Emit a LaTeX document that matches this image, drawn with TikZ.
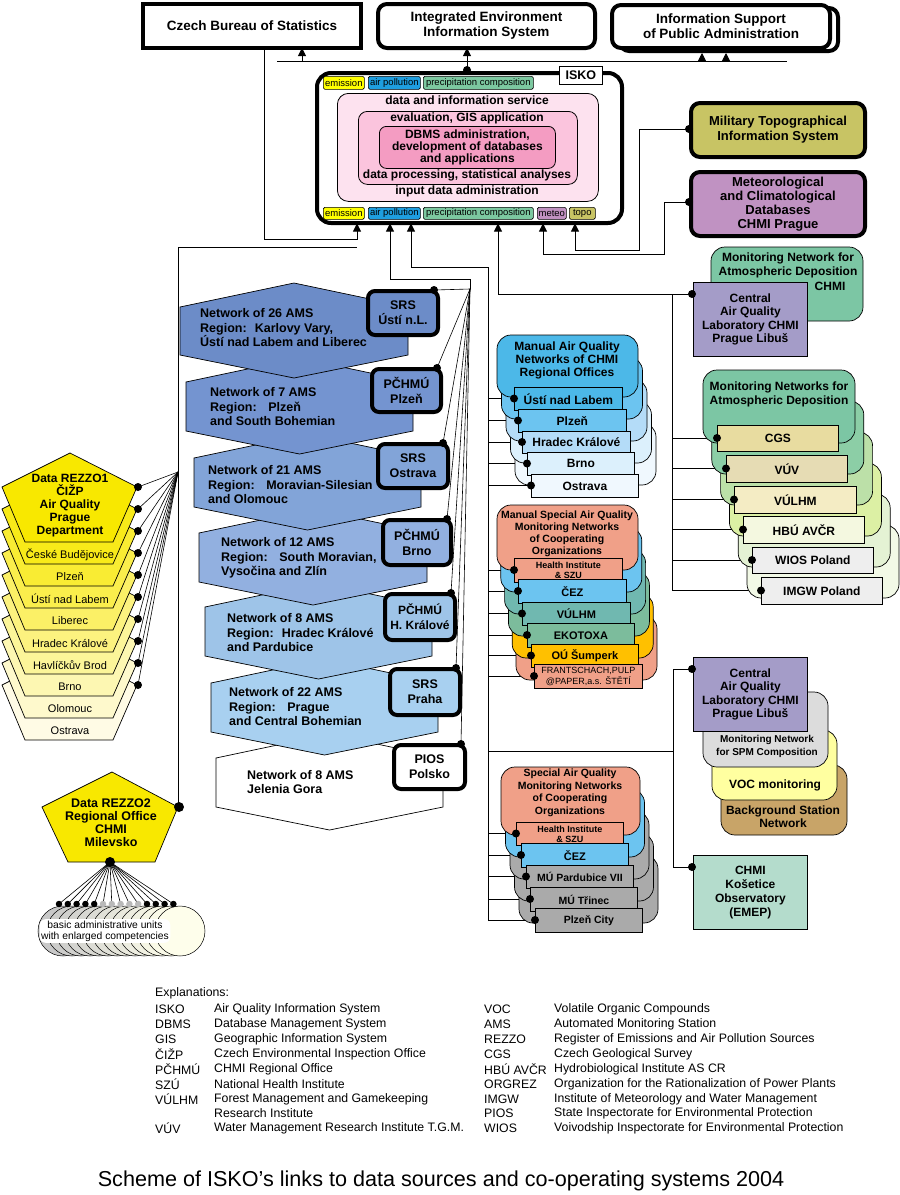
\documentclass[tikz,border=0pt]{standalone}
\usepackage{fontspec}
\setmainfont{Liberation Sans}
\usetikzlibrary{arrows.meta}
\definecolor{hexA}{HTML}{6C8CC8}
\definecolor{hexB}{HTML}{7494D0}
\definecolor{hexC}{HTML}{82A4D8}
\definecolor{hexD}{HTML}{92B0E0}
\definecolor{hexE}{HTML}{9EC4E8}
\definecolor{hexF}{HTML}{A8D0F0}
\definecolor{tagY}{HTML}{FFFF00}
\definecolor{tagB}{HTML}{1E9EE0}
\definecolor{tagG}{HTML}{7CC8A0}
\definecolor{tagM}{HTML}{C090C0}
\definecolor{tagT}{HTML}{C8C464}
\definecolor{pkA}{HTML}{FDE2EF}
\definecolor{pkB}{HTML}{FBC4DD}
\definecolor{pkC}{HTML}{F49CC2}
\definecolor{milC}{HTML}{C8C464}
\definecolor{metC}{HTML}{C092C2}
\definecolor{grnA}{HTML}{7CC6A4}
\definecolor{labC}{HTML}{A49CC8}
\definecolor{blA}{HTML}{4CB8E8}
\definecolor{blB}{HTML}{6CC4F0}
\definecolor{blC}{HTML}{B4DCF8}
\definecolor{blD}{HTML}{DCF0FC}
\definecolor{blE}{HTML}{F0F8FE}
\definecolor{salC}{HTML}{F0A088}
\definecolor{tealC}{HTML}{70B8B0}
\definecolor{ekoC}{HTML}{7CBC9C}
\definecolor{orC}{HTML}{FFC000}
\definecolor{gryC}{HTML}{AAAAAA}
\definecolor{spmC}{HTML}{DCDCDC}
\definecolor{vocC}{HTML}{FFFFA0}
\definecolor{bgsC}{HTML}{C8A468}
\definecolor{kosC}{HTML}{B4DCCC}
\definecolor{dA}{HTML}{7CC6A4}
\definecolor{dB}{HTML}{8CCEA6}
\definecolor{dC}{HTML}{BCE0A8}
\definecolor{dD}{HTML}{DCF0A4}
\definecolor{dE}{HTML}{E4F2D4}
\definecolor{dF}{HTML}{F2F9E6}
\definecolor{cgsC}{HTML}{E8DCA0}
\definecolor{vuvC}{HTML}{E6DCB4}
\definecolor{vulC}{HTML}{F4ECC4}
\definecolor{hbuC}{HTML}{F4F8E0}
\definecolor{wioC}{HTML}{EEEEEE}
\definecolor{ryA}{HTML}{F8E800}
\newcommand\fsz[2]{\fontsize{#1}{#2}\selectfont}
\newcommand\bx[7]{\pgfmathsetmacro\bxw{#4-#2}\pgfmathsetmacro\bxh{#5-#3}%
  \node[#6,anchor=north west,minimum width=\bxw pt,minimum height=\bxh pt] (#1) at (#2,#3) {#7};}
\newcommand\hexa[5]{\filldraw[fill=#5,line width=0.7pt] (#1,#3) -- ({(#1+#2)/2},{#3-24}) -- (#2,#3) -- (#2,#4) -- ({(#1+#2)/2},{#4+23}) -- (#1,#4) -- cycle;}
\tikzset{
  base/.style={inner sep=0pt, align=center, font=\bfseries\fsz{12}{13.5}},
  tbox/.style={base, draw, line width=4pt},
  rbox/.style={tbox, rounded corners=9pt},
  regbox/.style={tbox, rounded corners=7pt, font=\bfseries\fsz{12.5}{15}},
  sbox/.style={base, draw, line width=0.8pt},
  conn/.style={line width=0.9pt},
  fan/.style={line width=0.6pt},
  arr/.style={conn, -{Triangle[width=8pt,length=8pt]}},
  dotst/.style={circle, fill=black, inner sep=0pt, minimum size=8pt},
  tag/.style={draw, line width=0.6pt, rounded corners=1.5pt, inner sep=0pt, font=\fsz{9.5}{10}},
  lay/.style={draw, line width=0.7pt, rounded corners=14pt},
  txt/.style={inner sep=0pt, align=center, font=\bfseries\fsz{12}{13.5}},
  hext/.style={inner sep=0pt, anchor=west, align=left, font=\bfseries\fsz{12.5}{14.5}},
  expl/.style={inner sep=0pt, anchor=west, font=\fsz{12.3}{15}},
}
\begin{document}
\begin{tikzpicture}[x=1pt,y=-1pt]
\useasboundingbox (0,0) rectangle (900,1195);
\fill[white] (0,0) rectangle (900,1195);

% ---------------- connectors ----------------
\coordinate (busL) at (277,61.5);
\coordinate (busR) at (787,61.5);
\draw[conn] (busL) -- (busR);
\draw[arr] (302,61.5) -- (302,48);
\draw[arr] (467,61.5) -- (467,48);
\draw[arr] (702,61.5) -- (702,53);
\draw[arr] (726,61.5) -- (726,53);
\draw[conn] (467,70) -- (467,61.5);

\draw[arr] (264,46) -- (264,239) -- (357,239) -- (357,223.5);
\draw[conn] (178,808) -- (178,247) -- (357,247);
\draw[arr] (470,289) -- (470,279) -- (390,279) -- (390,223.5);
\draw[arr] (488,921) -- (488,267) -- (411,267) -- (411,223.5);
\draw[arr] (692,294) -- (498,294) -- (498,223.5);
\draw[conn] (672,294) -- (672,590.5);
\draw[arr] (689,202) -- (664,202) -- (664,254) -- (543,254) -- (543,223.5);
\draw[arr] (689,129) -- (639,129) -- (639,250) -- (575,250) -- (575,223.5);
\draw[conn] (488,751) -- (673,751);
\draw[conn] (692,669) -- (673,669) -- (673,867) -- (692,867);

% branches to deposition items
\foreach \y/\x in {438/717,468.5/726,499.5/734,529.5/743,560/752,590.5/761}
  \draw[conn] (672,\y) -- (\x,\y);
% branches to manual networks
\foreach \y/\x in {398.5/514,420.5/518,442/522,463.5/527,485.5/531,
                   570/514,591/518,613.5/522,635/527,655.5/531,676/534,
                   833.5/516,855/521,876.5/526,899/530,920/535}
  \draw[conn] (488,\y) -- (\x,\y);

% ---------------- top boxes ----------------
\bx{cbs}{141}{2}{359}{46}{tbox, fill=white, font=\bfseries\fsz{13.5}{15}}{Czech Bureau of Statistics}
\bx{ieis}{376}{2}{593}{46}{rbox, fill=white, font=\bfseries\fsz{13.5}{15}}{Integrated Environment\\Information System}
\draw[line width=4pt, rounded corners=9pt, fill=white] (620,8) rectangle (838,51);
\bx{ispa}{610}{3}{828}{46}{rbox, fill=white, font=\bfseries\fsz{13.5}{15}}{Information Support\\of Public Administration}

% ---------------- ISKO ----------------
\bx{isko}{315}{71}{620}{221}{rbox, rounded corners=14pt, fill=white}{}
\bx{iskol}{559}{66}{602}{84}{sbox, fill=white, font=\bfseries\fsz{12.5}{14}}{ISKO}
\bx{te1}{323}{76}{364}{89}{tag,fill=tagY}{emission}
\bx{ta1}{368}{76}{420}{89}{tag,fill=tagB}{air pollution}
\bx{tp1}{423}{76}{533}{89}{tag,fill=tagG}{precipitation composition}
\bx{te2}{323}{207}{364}{219}{tag,fill=tagY}{emission}
\bx{ta2}{368}{207}{420}{219}{tag,fill=tagB}{air pollution}
\bx{tp2}{423}{207}{533}{219}{tag,fill=tagG}{precipitation composition}
\bx{tm2}{537}{207}{566}{219}{tag,fill=tagM}{meteo}
\bx{tt2}{569}{207}{595}{219}{tag,fill=tagT}{topo}
\bx{dis}{337}{93}{598}{201}{sbox, fill=pkA, rounded corners=11pt}{}
\bx{evl}{358}{111}{577}{184}{sbox, fill=pkB, rounded corners=9pt}{}
\bx{dbms}{379}{126}{555}{168}{sbox, fill=pkC, rounded corners=7pt, font=\bfseries\fsz{12}{12}}{DBMS administration,\\development of databases\\and applications}
\node[txt] (tx1) at (467,100.5) {data and information service};
\node[txt] (tx2) at (467,118) {evaluation, GIS application};
\node[txt] (tx3) at (467,175.5) {data processing, statistical analyses};
\node[txt] (tx4) at (467,191.5) {input data administration};
\node[dotst] (iskotop) at (467,70) {};

% ---------------- military / meteo ----------------
\bx{mil}{689}{101}{863}{155}{rbox, fill=milC, font=\bfseries\fsz{13}{15}}{Military Topographical\\Information System}
\bx{met}{689}{170}{863}{234}{rbox, fill=metC, font=\bfseries\fsz{13}{13.8}}{Meteorological\\and Climatological\\Databases\\CHMI Prague}
\node[dotst] (dmil) at (689,129) {};
\node[dotst] (dmet) at (689,202) {};

% ---------------- deposition ----------------
\filldraw[lay, fill=grnA] (711,247) rectangle (863,321);
\node[txt] (mnc) at (788,265.5) {Monitoring Network for\\Atmospheric Deposition};
\node[txt] (mnc2) at (830,286) {CHMI};
\bx{cal1}{693}{282}{807}{356}{sbox, fill=labC}{Central\\Air Quality\\Laboratory CHMI\\Prague Libuš}
\node[dotst] (dcal1) at (692,294) {};

\foreach \i/\c in {5/dF,4/dE,3/dD,2/dC,1/dB,0/dA}
  \filldraw[lay, fill=\c] ({703+8.8*\i},{370+31*\i}) rectangle ({855+8.8*\i},{443+31*\i});
\node[txt] (mnad) at (779,394.5) {Monitoring Networks for\\Atmospheric Deposition};
\bx{cgs}{717}{425}{838}{451}{sbox, fill=cgsC}{CGS}
\bx{vuv}{726}{455}{847}{482}{sbox, fill=vuvC}{VÚV}
\bx{vul}{734}{486}{856}{513}{sbox, fill=vulC}{VÚLHM}
\bx{hbu}{743}{516}{864}{543}{sbox, fill=hbuC}{HBÚ AVČR}
\bx{wio}{752}{547}{873}{573}{sbox, fill=wioC}{WIOS Poland}
\bx{img}{761}{577}{882}{604}{sbox, fill=wioC}{IMGW Poland}
\foreach \n/\y/\x in {1/438/717,2/468.5/726,3/499.5/734,4/529.5/743,5/560/752,6/590.5/761}
  \node[dotst] (dd\n) at (\x,\y) {};

% ---------------- manual AQ networks ----------------
\foreach \i/\c in {4/blE,3/blD,2/blC,1/blB,0/blA}
  \filldraw[lay, fill=\c] ({497+4.5*\i},{335+22*\i}) rectangle ({638+4.5*\i},{397+22*\i});
\node[txt, font=\bfseries\fsz{12}{13}] (manT) at (567,360) {Manual Air Quality\\Networks of CHMI\\Regional Offices};
\bx{mu}{514}{387}{622}{410}{sbox, fill=blA}{Ústí nad Labem}
\bx{mp}{518}{409}{626}{432}{sbox, fill=blB}{Plzeň}
\bx{mh}{522}{431}{630}{453}{sbox, fill=blC}{Hradec Králové}
\bx{mb}{527}{452}{634}{475}{sbox, fill=blD}{Brno}
\bx{mo}{531}{474}{638}{497}{sbox, fill=blE}{Ostrava}
\foreach \n/\y/\x in {1/398.5/514,2/420.5/518,3/442/522,4/463.5/527,5/485.5/531}
  \node[dotst] (dm\n) at (\x,\y) {};

% ---------------- manual special ----------------
\foreach \i/\c in {5/salC,4/orC,3/ekoC,2/tealC,1/blB,0/salC}
  \filldraw[lay, fill=\c] ({497+3.8*\i},{505+22*\i}) rectangle ({638+3.8*\i},{570+22*\i});
\node[txt, font=\bfseries\fsz{10.5}{12}] (msT) at (567,533.5) {Manual Special Air Quality\\Monitoring Networks\\of Cooperating\\Organizations};
\bx{ms1}{514}{558}{622}{582}{sbox, fill=salC, font=\bfseries\fsz{9}{10}}{Health Institute\\\& SZU}
\bx{ms2}{518}{579}{626}{603}{sbox, fill=blB, font=\bfseries\fsz{11}{12}}{ČEZ}
\bx{ms3}{522}{602}{630}{625}{sbox, fill=tealC, font=\bfseries\fsz{11}{12}}{VÚLHM}
\bx{ms4}{527}{623}{634}{647}{sbox, fill=ekoC, font=\bfseries\fsz{11}{12}}{EKOTOXA}
\bx{ms5}{531}{644}{638}{667}{sbox, fill=orC, font=\bfseries\fsz{11}{12}}{OÚ Šumperk}
\bx{ms6}{534}{664}{642}{688}{sbox, fill=salC, font=\fsz{9}{10.5}}{FRANTSCHACH,PULP\\@PAPER,a.s. ŠTĚTÍ}
\foreach \n/\y/\x in {1/570/514,2/591/518,3/613.5/522,4/635/527,5/655.5/531,6/676/534}
  \node[dotst] (dms\n) at (\x,\y) {};

% ---------------- special (bottom) ----------------
\foreach \i/\c in {4/gryC,3/gryC,2/gryC,1/blB,0/salC}
  \filldraw[lay, fill=\c] ({501+4.5*\i},{767+22*\i}) rectangle ({640+4.5*\i},{835+22*\i});
\node[txt, font=\bfseries\fsz{10.5}{12.5}] (spT) at (570,793) {Special Air Quality\\Monitoring Networks\\of Cooperating\\Organizations};
\bx{sp1}{516}{822}{623}{845}{sbox, fill=salC, font=\bfseries\fsz{9}{10}}{Health Institute\\\& SZU}
\bx{sp2}{521}{843}{628}{867}{sbox, fill=blB, font=\bfseries\fsz{11}{12}}{ČEZ}
\bx{sp3}{526}{865}{633}{888}{sbox, fill=gryC, font=\bfseries\fsz{10.5}{12}}{MÚ Pardubice VII}
\bx{sp4}{530}{887}{637}{911}{sbox, fill=gryC, font=\bfseries\fsz{10.5}{12}}{MÚ Třinec}
\bx{sp5}{535}{908}{642}{932}{sbox, fill=gryC, font=\bfseries\fsz{10.5}{12}}{Plzeň City}
\foreach \n/\y/\x in {1/833.5/516,2/855/521,3/876.5/526,4/899/530,5/920/535}
  \node[dotst] (dsp\n) at (\x,\y) {};

% ---------------- central lab 2 group ----------------
\filldraw[lay, fill=bgsC] (721,765) rectangle (847,835);
\filldraw[lay, fill=vocC] (712,730) rectangle (837,800);
\filldraw[lay, fill=spmC] (703,692) rectangle (828,767);
\node[txt, font=\bfseries\fsz{10}{13}] (spm) at (767,746.5) {Monitoring Network\\for SPM Composition};
\node[txt] (voc) at (775,785) {VOC monitoring};
\node[txt] (bgs) at (783,816.5) {Background Station\\Network};
\bx{cal2}{693}{657}{807}{731}{sbox, fill=labC}{Central\\Air Quality\\Laboratory CHMI\\Prague Libuš}
\bx{kos}{693}{855}{807}{929}{sbox, fill=kosC, font=\bfseries\fsz{12}{14}}{CHMI\\Košetice\\Observatory\\(EMEP)}
\node[dotst] (dcal2) at (692,669) {};
\node[dotst] (dkos) at (692,867) {};

% ---------------- hexagons ----------------
\hexa{216}{443}{758}{807}{white}
\hexa{211}{438}{683}{732}{hexF}
\hexa{205}{432}{607}{656}{hexE}
\hexa{199}{427}{533}{582}{hexD}
\hexa{194}{421}{458}{507}{hexC}
\hexa{186}{413}{382}{431}{hexB}
\hexa{180}{408}{307}{355}{hexA}
\node[hext] (h1) at (200,328) {Network of 26 AMS\\Region:~ Karlovy Vary,\\Ústí nad Labem and Liberec};
\node[hext] (h2) at (210,407) {Network of 7 AMS\\Region:~~ Plzeň\\and South Bohemian};
\node[hext] (h3) at (208,485) {Network of 21 AMS\\Region:~~ Moravian-Silesian\\and Olomouc};
\node[hext] (h4) at (221,558) {Network of 12 AMS\\Region:~~ South Moravian,\\Vysočina and Zlín};
\node[hext] (h5) at (227,633) {Network of 8 AMS\\Region:~ Hradec Králové\\and Pardubice};
\node[hext] (h6) at (229,707) {Network of 22 AMS\\Region:~~ Prague\\and Central Bohemian};
\node[hext] (h7) at (247,782) {Network of 8 AMS\\Jelenia Gora};

\coordinate (fanC) at (470,289);
\foreach \x/\y in {434/290,437/368,443/443,447/519,451/593,456/668,461/744}
  \draw[fan] (fanC) -- (\x,\y);

\bx{rb1}{366}{289}{436}{333}{regbox, fill=hexA}{SRS\\Ústí n.L.}
\bx{rb2}{370}{367}{439}{410}{regbox, fill=hexB}{PČHMÚ\\Plzeň}
\bx{rb3}{376}{442}{446}{486}{regbox, fill=hexC}{SRS\\Ostrava}
\bx{rb4}{381}{518}{449}{563}{regbox, fill=hexD}{PČHMÚ\\Brno}
\bx{rb5}{383}{592}{453}{638}{regbox, fill=hexE, font=\bfseries\fsz{12}{15}}{PČHMÚ\\H. Králové}
\bx{rb6}{388}{667}{458}{713}{regbox, fill=hexF}{SRS\\Praha}
\bx{rb7}{392}{743}{463}{787}{regbox, fill=white}{PIOS\\Polsko}
\foreach \n/\x/\y in {1/434/290,2/437/368,3/443/443,4/447/519,5/451/593,6/456/668,7/461/744}
  \node[dotst] (dr\n) at (\x,\y) {};

% ---------------- REZZO1 ----------------
\coordinate (rzC) at (178,472);
\foreach \k in {9,8,...,0} {
  \pgfmathtruncatemacro\cr{248+0.8*\k}
  \pgfmathtruncatemacro\cg{232+2.2*\k}
  \pgfmathtruncatemacro\cb{25.5*\k}
  \definecolor{rzc}{RGB}{\cr,\cg,\cb}
  \filldraw[fill=rzc, line width=0.7pt] (70,{453+22*\k}) -- (2,{487+22*\k}) -- (25,{542+22*\k}) -- (113,{542+22*\k}) -- (137,{487+22*\k}) -- cycle;
}
\node[txt, font=\bfseries\fsz{12}{12.8}] (rz1) at (70,505.5) {Data REZZO1\\ČIŽP\\Air Quality\\Prague\\Department};
\foreach \k/\t in {1/České Budějovice,2/Plzeň,3/Ústí nad Labem,4/Liberec,5/Hradec Králové,6/Havlíčkův Brod,7/Brno,8/Olomouc,9/Ostrava}
  \node[inner sep=0pt, font=\fsz{11}{12}] (city\k) at (70,{533+22*\k}) {\t};
\foreach \k in {0,...,9} {
  \draw[fan] (rzC) -- (138,{487+22*\k});
  \node[dotst] (rzd\k) at (138,{487+22*\k}) {};
}

% ---------------- REZZO2 ----------------
\filldraw[fill=ryA, line width=0.7pt] (112,772) -- (42,807) -- (68,862) -- (155,862) -- (178,807) -- cycle;
\node[txt, font=\bfseries\fsz{12.5}{13}] (rz2) at (111,822.5) {Data REZZO2\\Regional Office\\CHMI\\Milevsko};
\foreach \j in {0,...,13} {
  \pgfmathtruncatemacro\cr{200+4.2*\j}
  \pgfmathtruncatemacro\cb{200+2.7*\j}
  \definecolor{bc}{RGB}{\cr,\cr,\cb}
  \filldraw[fill=bc, line width=0.5pt] ({63+9*\j},931) circle (25pt);
}
\node[fill=white, rounded corners=6pt, inner sep=1.5pt, align=center, font=\fsz{10.3}{11}] (bau) at (105,931) {basic administrative units\\with enlarged competencies};
\coordinate (rz2b) at (110,862);
\foreach \m in {0,...,13} \draw[fan] (rz2b) -- ({59+8.8*\m},904);
\foreach \m in {0,...,4,10,11,12,13} \node[dotst, minimum size=6.5pt] (fd\m) at ({59+8.8*\m},904) {};
\foreach \m in {5,...,9} \node[dotst, minimum size=6.5pt, fill=gray!55] (fd\m) at ({59+8.8*\m},904) {};
\node[dotst, minimum size=10pt] (rz2d) at (110,862) {};
\node[dotst, minimum size=10pt] (rz2r) at (179,807) {};

% ---------------- explanations ----------------
\node[expl] (exh) at (155,993) {Explanations:};
\foreach \y/\a/\d in {1009/ISKO/Air Quality Information System,
  1024/DBMS/Database Management System,
  1039/GIS/Geographic Information System,
  1054/ČIŽP/Czech Environmental Inspection Office,
  1069/PČHMÚ/CHMI Regional Office,
  1084/SZÚ/National Health Institute,
  1099/VÚLHM/Forest Management and Gamekeeping,
  1128/VÚV/Water Management Research Institute T.G.M.} {
  \node[expl] at (155,\y) {\a};
  \node[expl] at (214,\y) {\d};
}
\node[expl] (exri) at (214,1113.5) {Research Institute};
\foreach \y/\a/\d in {1009/VOC/Volatile Organic Compounds,
  1024/AMS/Automated Monitoring Station,
  1039/REZZO/Register of Emissions and Air Pollution Sources,
  1054/CGS/Czech Geological Survey,
  1069/HBÚ AVČR/Hydrobiological Institute AS CR,
  1084/ORGREZ/Organization for the Rationalization of Power Plants,
  1099/IMGW/Institute of Meteorology and Water Management,
  1113.5/PIOS/State Inspectorate for Environmental Protection,
  1128/WIOS/Voivodship Inspectorate for Environmental Protection} {
  \node[expl] at (484,\y) {\a};
  \node[expl] at (554,\y) {\d};
}
\node[inner sep=0pt, font=\fsz{21.6}{24}] (title) at (441,1181) {Scheme of ISKO’s links to data sources and co-operating systems 2004};
\end{tikzpicture}
\end{document}
